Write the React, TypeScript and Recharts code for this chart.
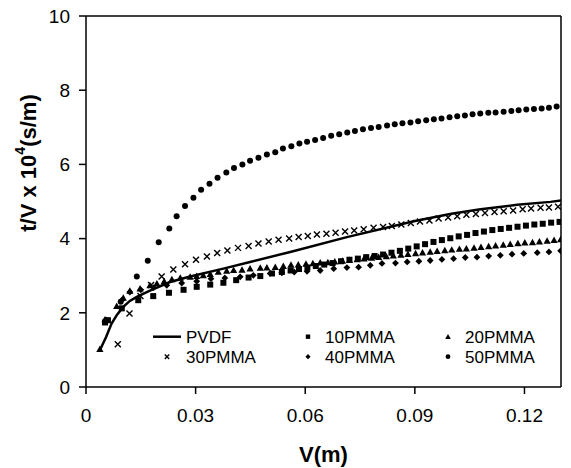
import React from 'react';
import { ScatterChart, Scatter, XAxis, YAxis, ReferenceLine } from 'recharts';

const FONT = '"Liberation Sans", Arial, Helvetica, sans-serif';

const xTicks = [0, 0.03, 0.06, 0.09, 0.12];
const yTicks = [0, 2, 4, 6, 8, 10];

// V (m) vs t/V x 10^4 (s/m)
const pvdf = [
  { v: 0.0038, t: 0.99 }, { v: 0.0055, t: 1.35 }, { v: 0.007, t: 1.71 }, { v: 0.0085, t: 1.95 },
  { v: 0.0102, t: 2.16 }, { v: 0.012, t: 2.32 }, { v: 0.0139, t: 2.43 }, { v: 0.0175, t: 2.6 },
  { v: 0.023, t: 2.83 }, { v: 0.0285, t: 2.98 }, { v: 0.0376, t: 3.19 }, { v: 0.0449, t: 3.37 },
  { v: 0.0559, t: 3.64 }, { v: 0.0714, t: 4.04 }, { v: 0.0897, t: 4.47 }, { v: 0.1, t: 4.67 },
  { v: 0.108, t: 4.79 }, { v: 0.118, t: 4.91 }, { v: 0.1271, t: 4.99 }, { v: 0.13, t: 5.03 },
];

const pmma10 = [
  { v: 0.0052, t: 1.74 }, { v: 0.006, t: 1.8 }, { v: 0.0098, t: 2.12 }, { v: 0.0143, t: 2.34 },
  { v: 0.0184, t: 2.45 }, { v: 0.0227, t: 2.54 }, { v: 0.0267, t: 2.62 }, { v: 0.0303, t: 2.7 },
  { v: 0.034, t: 2.76 }, { v: 0.0376, t: 2.81 }, { v: 0.0411, t: 2.88 }, { v: 0.0445, t: 2.95 },
  { v: 0.0477, t: 2.99 }, { v: 0.0509, t: 3.06 }, { v: 0.0536, t: 3.1 }, { v: 0.056, t: 3.14 },
  { v: 0.0583, t: 3.18 }, { v: 0.0606, t: 3.22 }, { v: 0.0629, t: 3.26 }, { v: 0.0652, t: 3.3 },
  { v: 0.0675, t: 3.34 }, { v: 0.0698, t: 3.39 }, { v: 0.0721, t: 3.43 }, { v: 0.0744, t: 3.46 },
  { v: 0.0767, t: 3.5 }, { v: 0.079, t: 3.53 }, { v: 0.0813, t: 3.57 }, { v: 0.0836, t: 3.62 },
  { v: 0.0859, t: 3.67 }, { v: 0.0882, t: 3.73 }, { v: 0.0905, t: 3.79 }, { v: 0.0928, t: 3.85 },
  { v: 0.0951, t: 3.91 }, { v: 0.0974, t: 3.96 }, { v: 0.0997, t: 4.01 }, { v: 0.102, t: 4.06 },
  { v: 0.1043, t: 4.1 }, { v: 0.1066, t: 4.15 }, { v: 0.1089, t: 4.19 }, { v: 0.1112, t: 4.23 },
  { v: 0.1135, t: 4.26 }, { v: 0.1158, t: 4.29 }, { v: 0.1181, t: 4.32 }, { v: 0.1204, t: 4.35 },
  { v: 0.1227, t: 4.38 }, { v: 0.125, t: 4.4 }, { v: 0.1273, t: 4.43 }, { v: 0.1296, t: 4.45 },
];

const pmma20 = [
  { v: 0.0038, t: 1.02 }, { v: 0.0052, t: 1.82 }, { v: 0.0084, t: 2.18 }, { v: 0.0102, t: 2.4 },
  { v: 0.012, t: 2.59 }, { v: 0.0148, t: 2.65 }, { v: 0.0175, t: 2.74 }, { v: 0.0194, t: 2.79 },
  { v: 0.0214, t: 2.85 }, { v: 0.0235, t: 2.9 }, { v: 0.0258, t: 2.94 }, { v: 0.0285, t: 2.97 },
  { v: 0.0303, t: 2.99 }, { v: 0.0321, t: 3.01 }, { v: 0.034, t: 3.04 }, { v: 0.0362, t: 3.1 },
  { v: 0.0385, t: 3.13 }, { v: 0.0404, t: 3.15 }, { v: 0.0427, t: 3.16 }, { v: 0.0449, t: 3.19 },
  { v: 0.0477, t: 3.21 }, { v: 0.0495, t: 3.22 }, { v: 0.0518, t: 3.23 }, { v: 0.054, t: 3.26 },
  { v: 0.0561, t: 3.29 }, { v: 0.0581, t: 3.3 }, { v: 0.0602, t: 3.32 }, { v: 0.0621, t: 3.33 },
  { v: 0.0641, t: 3.35 }, { v: 0.0662, t: 3.36 }, { v: 0.0681, t: 3.38 }, { v: 0.0702, t: 3.4 },
  { v: 0.0721, t: 3.42 }, { v: 0.0742, t: 3.44 }, { v: 0.0761, t: 3.46 }, { v: 0.0782, t: 3.48 },
  { v: 0.0801, t: 3.5 }, { v: 0.0822, t: 3.52 }, { v: 0.0841, t: 3.54 }, { v: 0.0862, t: 3.56 },
  { v: 0.0881, t: 3.58 }, { v: 0.0902, t: 3.6 }, { v: 0.0921, t: 3.62 }, { v: 0.0942, t: 3.64 },
  { v: 0.0961, t: 3.66 }, { v: 0.0982, t: 3.68 }, { v: 0.1001, t: 3.7 }, { v: 0.1022, t: 3.72 },
  { v: 0.1041, t: 3.73 }, { v: 0.1062, t: 3.75 }, { v: 0.1081, t: 3.77 }, { v: 0.1102, t: 3.79 },
  { v: 0.1121, t: 3.81 }, { v: 0.1142, t: 3.83 }, { v: 0.1161, t: 3.85 }, { v: 0.1182, t: 3.87 },
  { v: 0.1201, t: 3.89 }, { v: 0.1222, t: 3.9 }, { v: 0.1241, t: 3.92 }, { v: 0.1262, t: 3.94 },
  { v: 0.1281, t: 3.96 }, { v: 0.1299, t: 3.98 },
];

const pmma30 = [
  { v: 0.0087, t: 1.15 }, { v: 0.0119, t: 1.98 }, { v: 0.0149, t: 2.45 }, { v: 0.0178, t: 2.75 },
  { v: 0.0207, t: 2.98 }, { v: 0.0239, t: 3.17 }, { v: 0.0271, t: 3.31 }, { v: 0.0301, t: 3.43 },
  { v: 0.0331, t: 3.52 }, { v: 0.0359, t: 3.61 }, { v: 0.0387, t: 3.68 }, { v: 0.0416, t: 3.75 },
  { v: 0.0445, t: 3.8 }, { v: 0.0472, t: 3.87 }, { v: 0.05, t: 3.92 }, { v: 0.0527, t: 3.97 },
  { v: 0.0556, t: 4.0 }, { v: 0.0582, t: 4.04 }, { v: 0.0607, t: 4.07 }, { v: 0.0632, t: 4.11 },
  { v: 0.0658, t: 4.13 }, { v: 0.0683, t: 4.16 }, { v: 0.0709, t: 4.19 }, { v: 0.0734, t: 4.22 },
  { v: 0.076, t: 4.25 }, { v: 0.0787, t: 4.29 }, { v: 0.0813, t: 4.31 }, { v: 0.0837, t: 4.34 },
  { v: 0.0863, t: 4.38 }, { v: 0.0889, t: 4.42 }, { v: 0.0914, t: 4.46 }, { v: 0.094, t: 4.49 },
  { v: 0.0965, t: 4.54 }, { v: 0.0991, t: 4.57 }, { v: 0.1016, t: 4.6 }, { v: 0.1041, t: 4.64 },
  { v: 0.1067, t: 4.66 }, { v: 0.1092, t: 4.69 }, { v: 0.1118, t: 4.72 }, { v: 0.1143, t: 4.74 },
  { v: 0.1169, t: 4.76 }, { v: 0.1195, t: 4.79 }, { v: 0.1218, t: 4.81 }, { v: 0.1244, t: 4.83 },
  { v: 0.1267, t: 4.84 }, { v: 0.1292, t: 4.86 },
];

const pmma40 = [
  { v: 0.0055, t: 1.8 }, { v: 0.0098, t: 2.34 }, { v: 0.012, t: 2.56 }, { v: 0.015, t: 2.62 },
  { v: 0.0185, t: 2.68 }, { v: 0.0221, t: 2.74 }, { v: 0.0262, t: 2.8 }, { v: 0.0303, t: 2.85 },
  { v: 0.0342, t: 2.92 }, { v: 0.038, t: 2.94 }, { v: 0.0422, t: 2.97 }, { v: 0.0458, t: 3.01 },
  { v: 0.0504, t: 3.06 }, { v: 0.0536, t: 3.08 }, { v: 0.057, t: 3.1 }, { v: 0.0605, t: 3.12 },
  { v: 0.0641, t: 3.14 }, { v: 0.0678, t: 3.19 }, { v: 0.0714, t: 3.22 }, { v: 0.0746, t: 3.23 },
  { v: 0.0778, t: 3.28 }, { v: 0.081, t: 3.33 }, { v: 0.0847, t: 3.34 }, { v: 0.0879, t: 3.37 },
  { v: 0.0911, t: 3.39 }, { v: 0.0942, t: 3.41 }, { v: 0.0974, t: 3.44 }, { v: 0.1006, t: 3.46 },
  { v: 0.1038, t: 3.49 }, { v: 0.107, t: 3.5 }, { v: 0.1102, t: 3.53 }, { v: 0.1134, t: 3.55 },
  { v: 0.1166, t: 3.58 }, { v: 0.1198, t: 3.6 }, { v: 0.1235, t: 3.62 }, { v: 0.1267, t: 3.64 },
  { v: 0.1299, t: 3.67 },
];

const pmma50 = [
  { v: 0.0055, t: 1.8 }, { v: 0.0095, t: 2.3 }, { v: 0.0139, t: 2.98 }, { v: 0.0169, t: 3.4 },
  { v: 0.0199, t: 3.9 }, { v: 0.0228, t: 4.27 }, { v: 0.0248, t: 4.6 }, { v: 0.0271, t: 4.88 },
  { v: 0.0294, t: 5.1 }, { v: 0.0315, t: 5.32 }, { v: 0.0338, t: 5.48 }, { v: 0.036, t: 5.64 },
  { v: 0.0384, t: 5.78 }, { v: 0.0405, t: 5.9 }, { v: 0.0428, t: 6.0 }, { v: 0.0449, t: 6.1 },
  { v: 0.0472, t: 6.18 }, { v: 0.0495, t: 6.27 }, { v: 0.0518, t: 6.33 }, { v: 0.0539, t: 6.43 },
  { v: 0.0562, t: 6.49 }, { v: 0.0584, t: 6.56 }, { v: 0.0605, t: 6.61 }, { v: 0.0627, t: 6.66 },
  { v: 0.0649, t: 6.71 }, { v: 0.0671, t: 6.77 }, { v: 0.0693, t: 6.81 }, { v: 0.0715, t: 6.86 },
  { v: 0.0736, t: 6.9 }, { v: 0.0758, t: 6.95 }, { v: 0.078, t: 6.98 }, { v: 0.0801, t: 7.01 },
  { v: 0.0824, t: 7.05 }, { v: 0.0845, t: 7.08 }, { v: 0.0866, t: 7.11 }, { v: 0.0888, t: 7.13 },
  { v: 0.0909, t: 7.16 }, { v: 0.0931, t: 7.19 }, { v: 0.0952, t: 7.22 }, { v: 0.0973, t: 7.24 },
  { v: 0.0995, t: 7.27 }, { v: 0.1016, t: 7.3 }, { v: 0.1037, t: 7.32 }, { v: 0.1058, t: 7.35 },
  { v: 0.1079, t: 7.37 }, { v: 0.1101, t: 7.39 }, { v: 0.1121, t: 7.4 }, { v: 0.1143, t: 7.42 },
  { v: 0.1164, t: 7.44 }, { v: 0.1184, t: 7.46 }, { v: 0.1205, t: 7.48 }, { v: 0.1226, t: 7.49 },
  { v: 0.1247, t: 7.51 }, { v: 0.1267, t: 7.53 }, { v: 0.1288, t: 7.56 },
];

const seriesNames = ['PVDF', '10PMMA', '20PMMA', '30PMMA', '40PMMA', '50PMMA'];

type MarkProps = { cx?: number; cy?: number; s?: number };

const SquareMark = ({ cx = 0, cy = 0, s = 3 }: MarkProps) => (
  <rect x={cx - s} y={cy - s} width={s * 2} height={s * 2} fill="#000" />
);
const TriangleMark = ({ cx = 0, cy = 0, s = 3.6 }: MarkProps) => (
  <polygon points={`${cx},${cy - s} ${cx + s},${cy + s * 0.8} ${cx - s},${cy + s * 0.8}`} fill="#000" />
);
const CrossMark = ({ cx = 0, cy = 0, s = 3 }: MarkProps) => (
  <path d={`M${cx - s},${cy - s}L${cx + s},${cy + s}M${cx - s},${cy + s}L${cx + s},${cy - s}`} stroke="#000" strokeWidth={1.4} />
);
const DiamondMark = ({ cx = 0, cy = 0, s = 3.4 }: MarkProps) => (
  <polygon points={`${cx},${cy - s} ${cx + s},${cy} ${cx},${cy + s} ${cx - s},${cy}`} fill="#000" />
);
const CircleMark = ({ cx = 0, cy = 0, s = 3 }: MarkProps) => <circle cx={cx} cy={cy} r={s} fill="#000" />;

const legendMarks = [
  (x: number, y: number) => <line x1={x - 14} x2={x + 14} y1={y} y2={y} stroke="#000" strokeWidth={2.5} />,
  (x: number, y: number) => <SquareMark cx={x} cy={y} s={2.2} />,
  (x: number, y: number) => <TriangleMark cx={x} cy={y} s={2.8} />,
  (x: number, y: number) => <CrossMark cx={x} cy={y} s={2.2} />,
  (x: number, y: number) => <DiamondMark cx={x} cy={y} s={2.6} />,
  (x: number, y: number) => <CircleMark cx={x} cy={y} s={2.4} />,
];

// drawn over the plot, it reserves no room in the chart
function LegendBox() {
  const markX = [27, 168, 308];
  const textX = [46, 185, 325];
  return (
    <svg width={420} height={50} style={{ position: 'absolute', left: 140, top: 320, overflow: 'visible' }}>
      {seriesNames.map((name, i) => {
        const col = i % 3;
        const y = 16.7 + Math.floor(i / 3) * 20;
        return (
          <g key={name}>
            {legendMarks[i](markX[col], y)}
            <text x={textX[col]} y={y + 6} fontSize={17} fontFamily={FONT} fill="#000">
              {name}
            </text>
          </g>
        );
      })}
    </svg>
  );
}

function YTitle() {
  return (
    <text
      x={28}
      y={163}
      transform="rotate(-90 28 163)"
      textAnchor="middle"
      dominantBaseline="central"
      fontSize={22}
      fontWeight="bold"
      fontFamily={FONT}
      fill="#000"
    >
      <tspan>t/V x 10</tspan>
      <tspan dy={-8} fontSize={14}>4</tspan>
      <tspan dy={8} fontSize={22}>(s/m)</tspan>
    </text>
  );
}

const tickStyle = { fill: '#000', fontSize: 19, fontFamily: FONT };
const axisLine = { stroke: '#000', strokeWidth: 1.5 };

export default function App() {
  return (
    <div style={{ position: 'absolute', left: 0, top: 0, width: 571, height: 468, background: '#fff' }}>
      <ScatterChart width={571} height={468} margin={{ top: 16, right: 10, left: 0, bottom: 0 }}>
        <XAxis
          type="number"
          dataKey="v"
          domain={[0, 0.13]}
          ticks={xTicks}
          allowDataOverflow
          height={81}
          tick={tickStyle}
          tickSize={7}
          tickMargin={15}
          axisLine={axisLine}
          tickLine={axisLine}
          label={{ value: 'V(m)', position: 'insideBottom', offset: 6, fontSize: 22, fontWeight: 'bold', fontFamily: FONT, fill: '#000' }}
        />
        <YAxis
          type="number"
          dataKey="t"
          domain={[0, 10]}
          ticks={yTicks}
          allowDataOverflow
          width={86}
          tick={tickStyle}
          tickSize={7}
          tickMargin={9}
          axisLine={axisLine}
          tickLine={axisLine}
          label={<YTitle />}
        />
        <ReferenceLine y={10} stroke="#000" strokeWidth={1.5} />
        <ReferenceLine x={0.13} stroke="#000" strokeWidth={1.5} />
        <Scatter data={pmma10} isAnimationActive={false} shape={(p: any) => <SquareMark cx={p.cx} cy={p.cy} />} />
        <Scatter data={pmma20} isAnimationActive={false} shape={(p: any) => <TriangleMark cx={p.cx} cy={p.cy} />} />
        <Scatter data={pmma30} isAnimationActive={false} shape={(p: any) => <CrossMark cx={p.cx} cy={p.cy} />} />
        <Scatter data={pmma40} isAnimationActive={false} shape={(p: any) => <DiamondMark cx={p.cx} cy={p.cy} />} />
        <Scatter data={pmma50} isAnimationActive={false} shape={(p: any) => <CircleMark cx={p.cx} cy={p.cy} />} />
        <Scatter
          data={pvdf}
          isAnimationActive={false}
          line={{ stroke: '#000', strokeWidth: 2.5 }}
          lineJointType="linear"
          shape={() => <g />}
        />
      </ScatterChart>
      <LegendBox />
    </div>
  );
}
